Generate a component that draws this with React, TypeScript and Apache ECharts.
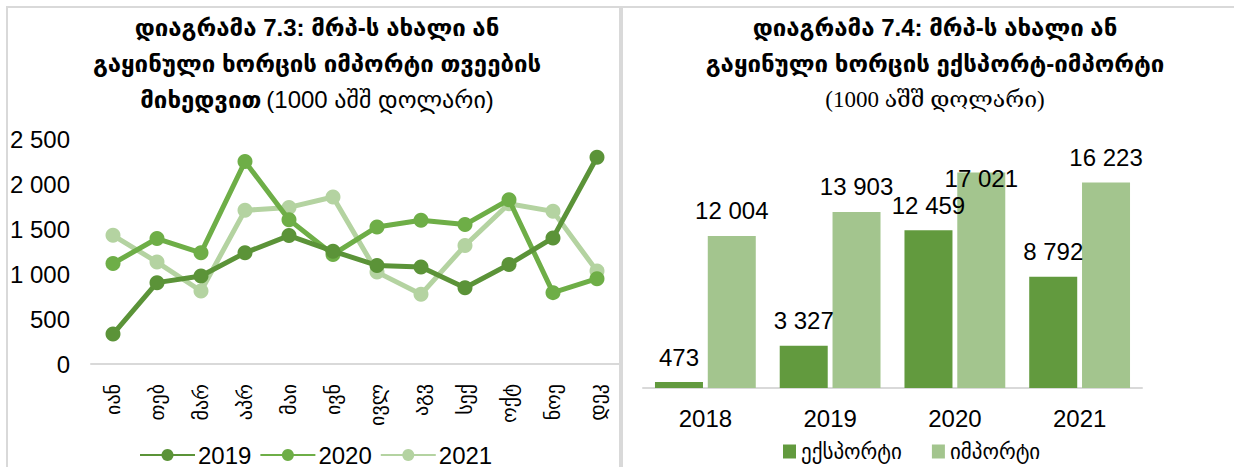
import React, { useEffect, useRef } from 'react';
import * as echarts from 'echarts';

const months = ['იან', 'თებ', 'მარ', 'აპრ', 'მაი', 'ივნ', 'ივლ', 'აგვ', 'სექ', 'ოქტ', 'ნოე', 'დეკ'];
const s2019 = [332, 904, 977, 1235, 1427, 1254, 1095, 1077, 848, 1106, 1401, 2297];
const s2020 = [1117, 1394, 1235, 2249, 1604, 1217, 1523, 1597, 1549, 1825, 793, 948];
const s2021 = [1430, 1132, 811, 1707, 1740, 1855, 1021, 774, 1316, 1781, 1696, 1032];
const lineNames = ['2019', '2020', '2021'];

const years = ['2018', '2019', '2020', '2021'];
const exportVals = [473, 3327, 12459, 8792];
const importVals = [12004, 13903, 17021, 16223];
const barNames = ['ექსპორტი', 'იმპორტი'];

const SANS = 'Liberation Sans, DejaVu Sans, sans-serif';
const SERIF = 'Liberation Serif, DejaVu Serif, DejaVu Sans, serif';
const fmt = (v: number) => String(v).replace(/\B(?=(\d{3})+(?!\d))/g, ' ');

const C2019 = '#5b9338';
const C2020 = '#6eae47';
const C2021 = '#b4d3a1';
const CEXP = '#629a3e';
const CIMP = '#a3c58e';
const BORDER = '#d9d9d9';

export default function App() {
  const ref = useRef<HTMLDivElement>(null);
  useEffect(() => {
    if (!ref.current) return;
    const chart = echarts.init(ref.current, undefined, { renderer: 'svg' });
    const lineSeries = [s2019, s2020, s2021].map((d, i) => ({
      name: lineNames[i],
      type: 'line',
      xAxisIndex: 0,
      yAxisIndex: 0,
      data: d,
      symbol: 'circle',
      symbolSize: 15,
      lineStyle: { width: 5, color: [C2019, C2020, C2021][i] },
      itemStyle: { color: [C2019, C2020, C2021][i] },
      z: 3 - i,
    }));
    const option: any = {
      animation: false,
      backgroundColor: '#fff',
      textStyle: { fontFamily: SANS },
      title: [
        {
          left: 312,
          top: 4,
          textAlign: 'center',
          text: '{b|დიაგრამა 7.3: მრპ-ს ახალი ან}\n{b|გაყინული ხორცის იმპორტი თვეების}\n{b|მიხედვით} {n|(1000 აშშ დოლარი)}',
          textStyle: {
            rich: {
              b: { fontFamily: SANS, fontWeight: 'bold', fontSize: 24, lineHeight: 36, color: '#000' },
              n: { fontFamily: SANS, fontWeight: 'normal', fontSize: 24, lineHeight: 36, color: '#000' },
            },
          },
        },
        {
          left: 930,
          top: 4,
          textAlign: 'center',
          text: '{b|დიაგრამა 7.4: მრპ-ს ახალი ან}\n{b|გაყინული ხორცის ექსპორტ-იმპორტი}\n{s|(1000 აშშ დოლარი)}',
          textStyle: {
            rich: {
              b: { fontFamily: SANS, fontWeight: 'bold', fontSize: 24, lineHeight: 36, color: '#000' },
              s: { fontFamily: SERIF, fontWeight: 'normal', fontSize: 23, lineHeight: 36, color: '#000' },
            },
          },
        },
      ],
      graphic: [
        { type: 'line', shape: { x1: 6, y1: 7, x2: 1234, y2: 7 }, style: { stroke: BORDER, lineWidth: 2 } },
        { type: 'line', shape: { x1: 7, y1: 7, x2: 7, y2: 467 }, style: { stroke: BORDER, lineWidth: 2 } },
        { type: 'line', shape: { x1: 621, y1: 7, x2: 621, y2: 467 }, style: { stroke: BORDER, lineWidth: 4 } },
      ],
      legend: [
        {
          data: lineNames,
          left: 134,
          top: 438,
          itemWidth: 55,
          itemHeight: 15,
          itemGap: 8,
          textStyle: { fontSize: 24, color: '#000', fontFamily: SANS, padding: [0, 0, 0, -2] },
        },
        {
          data: barNames,
          left: 778,
          top: 436,
          icon: 'rect',
          itemWidth: 13,
          itemHeight: 14,
          itemGap: 30,
          textStyle: { fontSize: 21, color: '#000', fontFamily: SANS },
        },
      ],
      grid: [
        { left: 91, width: 528, top: 139, height: 225 },
        { left: 643, width: 499, top: 160, height: 228 },
      ],
      xAxis: [
        {
          type: 'category',
          gridIndex: 0,
          data: months,
          boundaryGap: true,
          axisLine: { lineStyle: { color: BORDER, width: 2 } },
          axisTick: { show: false },
          axisLabel: { rotate: 90, fontSize: 20, margin: 20, color: '#000', fontFamily: SANS },
        },
        {
          type: 'category',
          gridIndex: 1,
          data: years,
          axisLine: { lineStyle: { color: BORDER, width: 2 } },
          axisTick: { show: false },
          axisLabel: { fontSize: 24, margin: 18, color: '#000', fontFamily: SANS },
        },
      ],
      yAxis: [
        {
          type: 'value',
          gridIndex: 0,
          min: 0,
          max: 2500,
          interval: 500,
          axisLine: { show: false },
          axisTick: { show: false },
          splitLine: { show: false },
          axisLabel: { fontSize: 24, margin: 21, color: '#000', fontFamily: SANS, formatter: (v: number) => fmt(v) },
        },
        {
          type: 'value',
          gridIndex: 1,
          min: 0,
          max: 18000,
          show: false,
          splitLine: { show: false },
        },
      ],
      series: [
        ...lineSeries,
        {
          name: barNames[0],
          type: 'bar',
          xAxisIndex: 1,
          yAxisIndex: 1,
          data: exportVals,
          barWidth: 48,
          barGap: '10%',
          itemStyle: { color: CEXP },
          label: {
            show: true,
            position: 'top',
            distance: 13,
            fontSize: 24,
            color: '#000',
            fontFamily: SANS,
            formatter: (p: any) => fmt(p.value),
          },
        },
        {
          name: barNames[1],
          type: 'bar',
          xAxisIndex: 1,
          yAxisIndex: 1,
          data: importVals.map((v, i) =>
            i === 2 ? { value: v, label: { offset: [0, 31] } } : v
          ),
          barWidth: 48,
          barGap: '10%',
          itemStyle: { color: CIMP },
          label: {
            show: true,
            position: 'top',
            distance: 13,
            fontSize: 24,
            color: '#000',
            fontFamily: SANS,
            formatter: (p: any) => fmt(p.value),
          },
        },
      ],
    };
    chart.setOption(option);
    return () => chart.dispose();
  }, []);
  return (
    <div
      ref={ref}
      style={{ position: 'absolute', left: 0, top: 0, width: 1234, height: 467 }}
    />
  );
}
